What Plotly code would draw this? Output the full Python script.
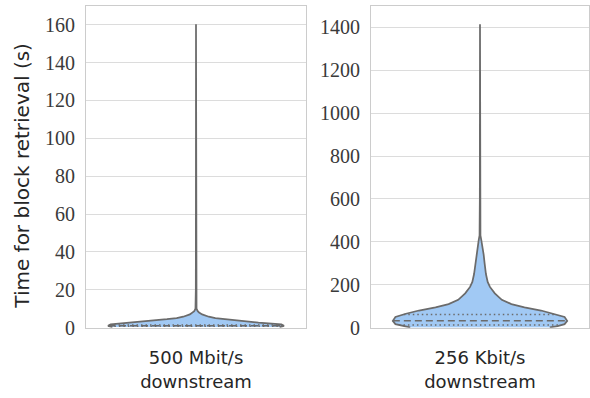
import numpy as np
import plotly.graph_objects as go

# ---------------- data ----------------
categories = ["500 Mbit/s<br>downstream", "256 Kbit/s<br>downstream"]

# violin profile: retrieval-time levels (s) and relative density (max = 1)
fast_levels = [0.3, 1.0, 1.7, 2.7, 3.6, 4.5, 5.1, 5.8, 7.0, 8.0, 8.7, 10.0, 20.0, 60.0, 160.3]
fast_density = [0.95, 1.0, 0.97, 0.71, 0.52, 0.33, 0.22, 0.145, 0.07, 0.035, 0.02, 0.006, 0.002, 0.001, 0.0]
fast_quartiles = [0.7, 1.0, 1.4]

slow_levels = [1.0, 7.5, 16.6, 31.7, 50.0, 65.0, 80.0, 95.0, 110.0, 130.0, 160.0, 190.0,
               213.0, 250.0, 300.0, 340.0, 380.0, 410.0, 430.0, 600.0, 1414.0]
slow_density = [0.80, 0.89, 0.97, 1.0, 0.97, 0.85, 0.70, 0.51, 0.36, 0.25, 0.17, 0.114,
                0.088, 0.068, 0.053, 0.042, 0.028, 0.014, 0.005, 0.002, 0.0]
slow_quartiles = [12.0, 32.0, 62.0]

fast_ticks = [0, 20, 40, 60, 80, 100, 120, 140, 160]
slow_ticks = [0, 200, 400, 600, 800, 1000, 1200, 1400]
fast_range = [0, 170]
slow_range = [0, 1500]

# ---------------- styling ----------------
FILL = "#a1c9f4"
EDGE = "#6b6b6b"
HALF = 0.4          # half of violin width in category units
SERIF = "Liberation Serif"
SANS = "DejaVu Sans"

fig = go.Figure()


def add_violin(levels, density, quartiles, xa, ya):
    lv = np.asarray(levels, float)
    d = np.asarray(density, float) * HALF
    xs = np.concatenate([-d, d[::-1]])
    ys = np.concatenate([lv, lv[::-1]])
    fig.add_trace(go.Scatter(x=xs, y=ys, mode="lines", fill="toself",
                             fillcolor=FILL, line=dict(color=EDGE, width=1.75),
                             xaxis=xa, yaxis=ya, hoverinfo="skip", showlegend=False))
    for i, q in enumerate(quartiles):
        w = np.interp(q, lv, d)
        fig.add_trace(go.Scatter(x=[-w, w], y=[q, q], mode="lines",
                                 line=dict(color=EDGE, width=1.5,
                                           dash="7px,4px" if i == 1 else "1.5px,3px"),
                                 xaxis=xa, yaxis=ya, hoverinfo="skip", showlegend=False))


add_violin(fast_levels, fast_density, fast_quartiles, "x", "y")
add_violin(slow_levels, slow_density, slow_quartiles, "x2", "y2")

ydom = [1 - 337 / 398, 1 - 6 / 398]
common_x = dict(range=[-0.5, 0.5], tickvals=[0], showgrid=False, zeroline=False,
                showline=True, mirror=True, linecolor="#cccccc", linewidth=1,
                ticks="", ticklabelstandoff=14,
                tickfont=dict(family=SANS, size=18, color="#262626"))
common_y = dict(showgrid=True, gridcolor="#dcdcdc", gridwidth=1, zeroline=False,
                showline=True, mirror=True, linecolor="#cccccc", linewidth=1,
                ticks="", ticklabelstandoff=6,
                tickfont=dict(family=SERIF, size=20, color="#3a3a3a"))

fig.update_layout(
    width=590, height=398,
    margin=dict(l=0, r=0, t=0, b=0),
    paper_bgcolor="white", plot_bgcolor="white",
    xaxis=dict(domain=[86 / 590, 306 / 590], anchor="y",
               ticktext=[categories[0]], **common_x),
    yaxis=dict(domain=ydom, anchor="x", range=fast_range, tickvals=fast_ticks,
               **common_y),
    xaxis2=dict(domain=[371 / 590, 589 / 590], anchor="y2",
                ticktext=[categories[1]], **common_x),
    yaxis2=dict(domain=ydom, anchor="x2", range=slow_range, tickvals=slow_ticks,
                **common_y),
    annotations=[dict(text="Time for block retrieval (s)", textangle=-90,
                      x=22 / 590, y=1 - 180.7 / 398, xref="paper", yref="paper",
                      xanchor="center", yanchor="middle", showarrow=False,
                      font=dict(family=SANS, size=20, color="#262626"))],
)

fig.write_html("out.html")
